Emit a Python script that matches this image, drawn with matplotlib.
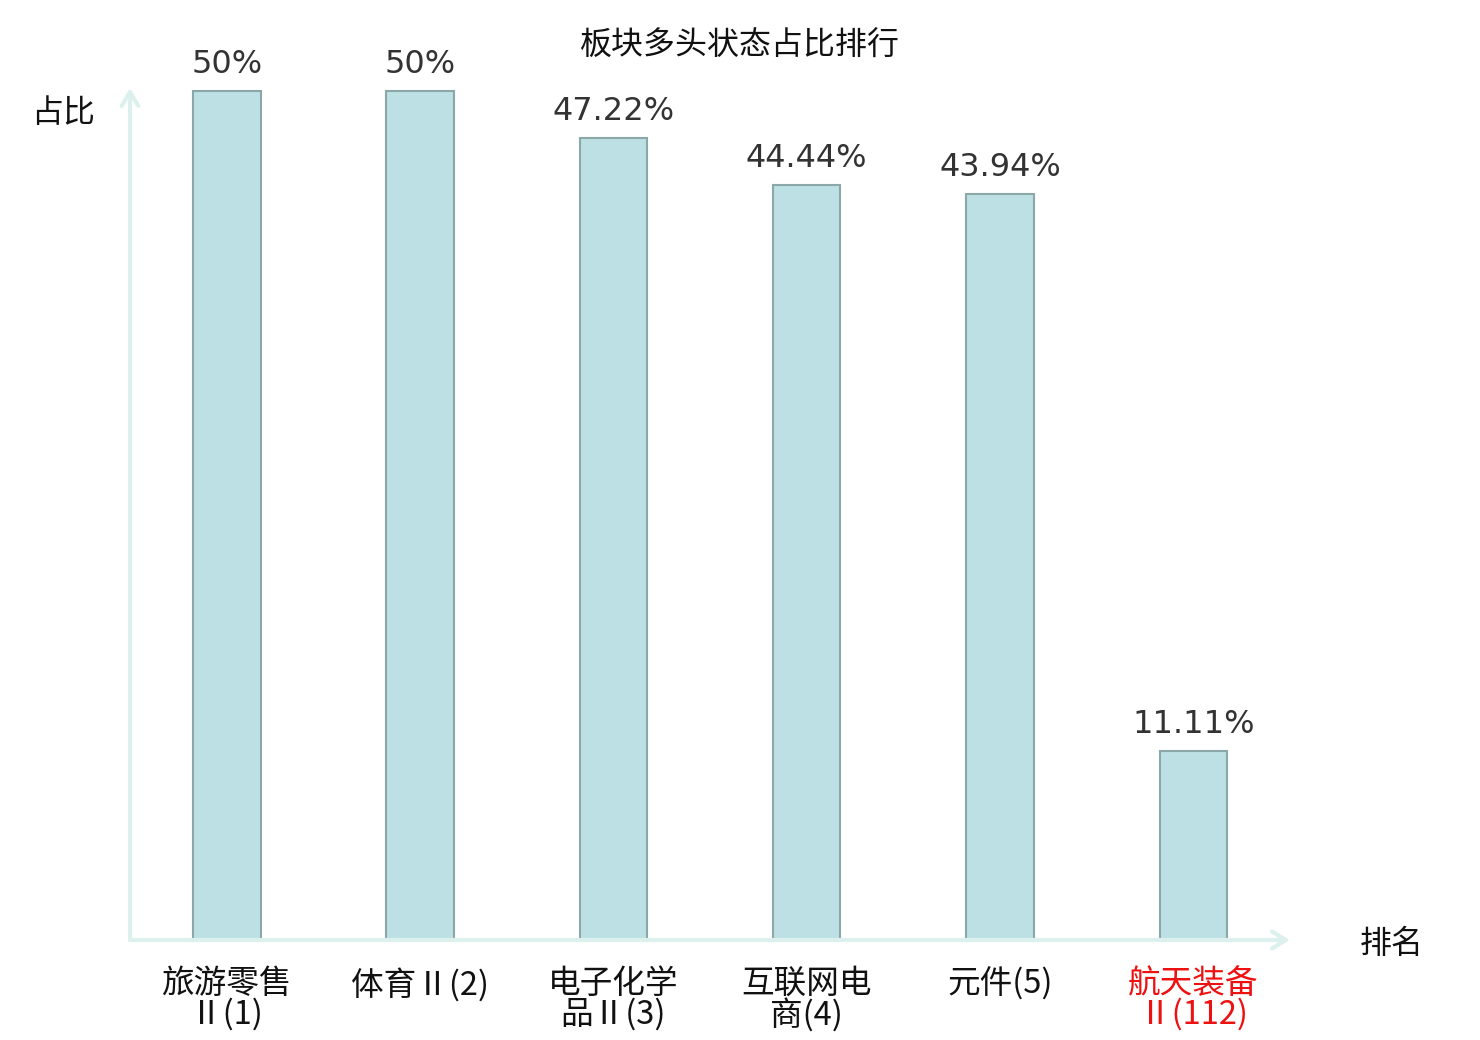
import matplotlib
matplotlib.use("Agg")
import matplotlib.pyplot as plt

plt.rcParams['font.family'] = ['Noto Sans CJK SC', 'DejaVu Sans']

# -----------------------------
# Data
# -----------------------------
categories = ["旅游零售\nⅡ(1)", "体育Ⅱ(2)", "电子化学\n品Ⅱ(3)", "互联网电\n商(4)", "元件(5)", "航天装备\nⅡ(112)"]
values = [50, 50, 47.22, 44.44, 43.94, 11.11]
value_labels = ["50%", "50%", "47.22%", "44.44%", "43.94%", "11.11%"]
label_colors = ["#111111", "#111111", "#111111", "#111111", "#111111", "#ee1111"]

BAR_COLOR = "#bce0e3"
EDGE_COLOR = "#8ba7a8"
AXIS_COLOR = "#dcf1ee"

# -----------------------------
# Figure
# -----------------------------
fig = plt.figure(figsize=(14.8, 10.4), dpi=100)
ax = fig.add_axes([130 / 1480, 1 - 940 / 1040, 1160 / 1480, 852 / 1040])

x = list(range(len(categories)))
bars = ax.bar(x, values, width=0.35, color=BAR_COLOR, edgecolor=EDGE_COLOR, linewidth=1.5)

ax.set_xlim(-0.5, 5.5)
ax.set_ylim(0, 50 * 852 / 849)

for bar, txt in zip(bars, value_labels):
    ax.annotate(txt, (bar.get_x() + bar.get_width() / 2, bar.get_height()),
                xytext=(0, 8), textcoords="offset points", ha="center", va="bottom",
                fontsize=23, color="#333333", family="DejaVu Sans")

# hide default spines, draw arrow axes
for s in ax.spines.values():
    s.set_visible(False)
ax.set_yticks([])
ax.set_xticks(x)
ax.set_xticklabels(categories, fontsize=23.5, linespacing=0.92)
ax.tick_params(axis="x", length=0, pad=20)
for lbl, c in zip(ax.get_xticklabels(), label_colors):
    lbl.set_color(c)

ax.annotate("", xy=(1.0, 0), xytext=(0, 0), xycoords="axes fraction",
            arrowprops=dict(arrowstyle="->,head_length=1.0,head_width=0.6", color=AXIS_COLOR, lw=3,
                            shrinkA=0, shrinkB=0))
ax.annotate("", xy=(0, 1.0), xytext=(0, 0), xycoords="axes fraction",
            arrowprops=dict(arrowstyle="->,head_length=1.0,head_width=0.6", color=AXIS_COLOR, lw=3,
                            shrinkA=0, shrinkB=0))

fig.text(63 / 1480, 1 - 113 / 1040, "占比", fontsize=23, ha="center", va="center", color="#111111")
fig.text(1392 / 1480, 1 - 944 / 1040, "排名", fontsize=23, ha="center", va="center", color="#111111")
fig.text(740 / 1480, 1 - 46 / 1040, "板块多头状态占比排行", fontsize=23, ha="center", va="center", color="#111111")

fig.savefig("out.png", dpi=100)
